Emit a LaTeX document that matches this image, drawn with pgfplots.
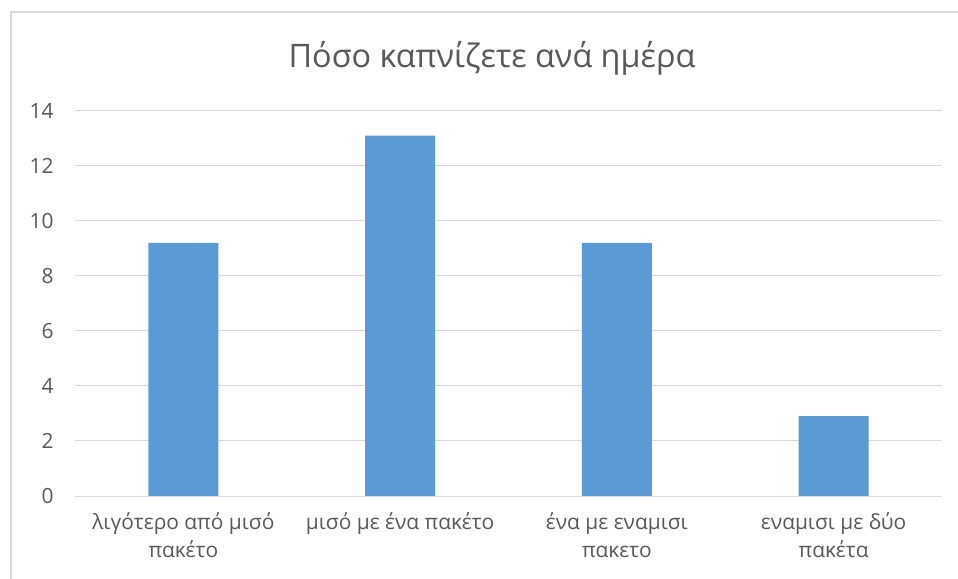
\documentclass[border=0pt]{standalone}
\usepackage{fontspec}
\setmainfont{Open Sans}
\usepackage{pgfplots}
\pgfplotsset{compat=1.18}
\definecolor{barblue}{HTML}{5B9BD5}
\definecolor{gridgray}{HTML}{D9D9D9}
\definecolor{txtgray}{HTML}{595959}
\definecolor{framegray}{HTML}{D9D9D9}
\begin{document}
\begin{tikzpicture}
\useasboundingbox (0,0) rectangle (958bp,579bp);
\fill[white] (0,0) rectangle (958bp,579bp);
\draw[framegray, line width=1.5bp] (11bp,0) -- (11bp,567bp) -- (958bp,567bp);
\node[text=txtgray, font=\fontsize{32.5}{38}\selectfont] at (492bp,521bp) {Πόσο καπνίζετε ανά ημέρα};
\begin{axis}[
  at={(75bp,83bp)}, anchor=south west,
  scale only axis, width=867bp, height=385bp,
  xmin=-0.5, xmax=3.5, ymin=0, ymax=14,
  ytick={0,2,...,14},
  xtick={0,1,2,3},
  xticklabels={{λιγότερο από μισό\\πακέτο},{μισό με ένα πακέτο},{ένα με εναμισι\\πακετο},{εναμισι με δύο\\πακέτα}},
  xticklabel style={align=center, text=txtgray, font=\fontsize{21}{28}\selectfont, yshift=-13bp},
  yticklabel style={text=txtgray, font=\fontsize{21}{24}\selectfont, xshift=-18bp},
  /pgf/number format/assume math mode=true,
  axis line style={draw=none},
  axis x line*=bottom,
  x axis line style={draw=gridgray, line width=1bp},
  major tick length=0pt,
  ymajorgrids, grid style={gridgray, line width=1bp},
  ybar, bar width=70bp,
  axis on top=false,
]
\addplot[fill=barblue, draw=none] coordinates {(0,9.2) (1,13.1) (2,9.2) (3,2.9)};
\end{axis}
\end{tikzpicture}
\end{document}
